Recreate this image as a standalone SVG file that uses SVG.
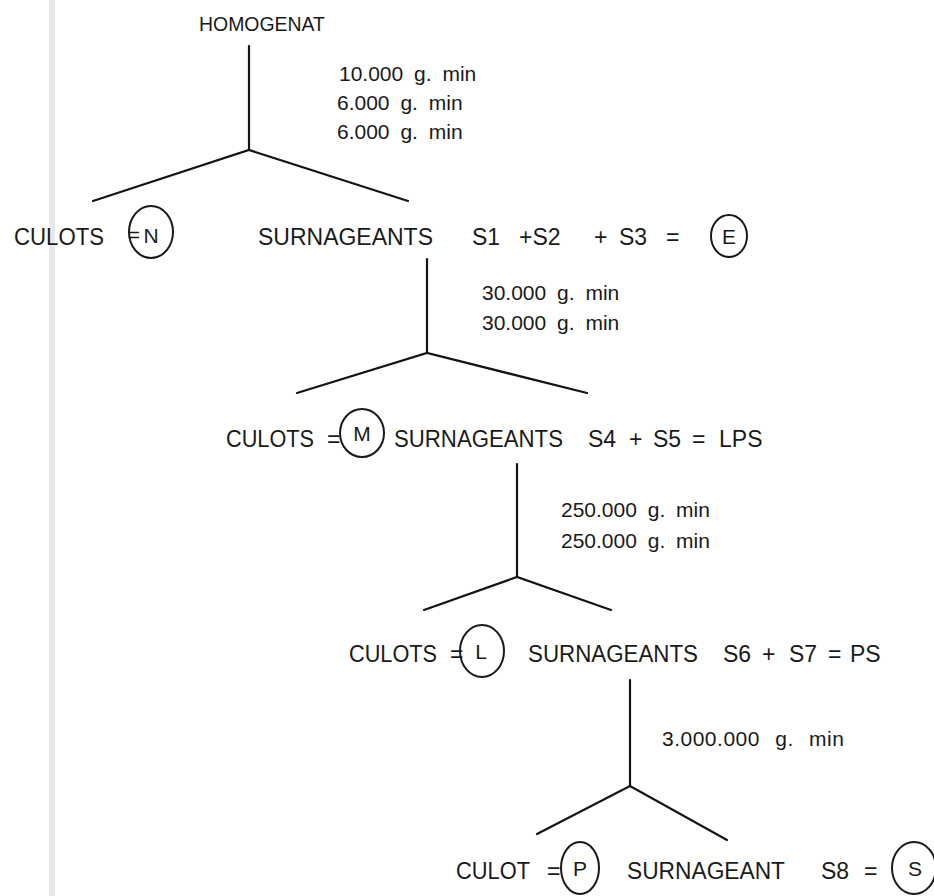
<svg xmlns="http://www.w3.org/2000/svg" width="934" height="896" viewBox="0 0 934 896">
<style>
.t{font-family:"Liberation Sans",Arial,sans-serif;font-size:23px;fill:#1a1a1a}
.s{font-family:"Liberation Sans",Arial,sans-serif;font-size:21px;fill:#1a1a1a}
.c{font-family:"Liberation Sans",Arial,sans-serif;font-size:21px;fill:#1a1a1a;text-anchor:middle}
.ring{fill:none;stroke:#1a1a1a;stroke-width:2}
.ln{fill:none;stroke:#141414;stroke-width:2.2;stroke-linecap:round}
</style>
<rect x="0" y="0" width="934" height="896" fill="#ffffff"/>
<rect x="49" y="0" width="6" height="896" fill="#e8e8e8"/>
<g id="connectors">
<path class="ln" d="M249 46V150M93 201L249 150L408 201"/>
<path class="ln" d="M427 259V353M297 393L427 353L587 393"/>
<path class="ln" d="M517 464V577M424 610L517 577L611 610"/>
<path class="ln" d="M630 680V786M537 834L630 786L727 840"/>
</g>
<g id="labels">
<text class="s" x="339" y="81" word-spacing="5">10.000 g. min</text>
<text class="s" x="337" y="110" word-spacing="5">6.000 g. min</text>
<text class="s" x="337" y="139" word-spacing="5">6.000 g. min</text>
<text class="s" x="482" y="300" word-spacing="5">30.000 g. min</text>
<text class="s" x="482" y="330" word-spacing="5">30.000 g. min</text>
<text class="s" x="561" y="517" word-spacing="5">250.000 g. min</text>
<text class="s" x="561" y="548" word-spacing="5">250.000 g. min</text>
<text class="s" x="662" y="746" word-spacing="9" letter-spacing="0.5">3.000.000 g. min</text>
</g>
<g id="homogenat">
<text class="s" x="199" y="31" font-size="19" textLength="126" lengthAdjust="spacingAndGlyphs">HOMOGENAT</text>
</g>
<g id="culots-n">
<text class="t" x="14" y="245" textLength="90" lengthAdjust="spacingAndGlyphs">CULOTS</text>
<text class="c" x="134" y="242" font-size="14">=</text>
<ellipse class="ring" cx="151" cy="232" rx="22" ry="26"/>
<text class="c" x="151" y="243">N</text>
</g>
<g id="surnageants-1">
<text class="t" x="258" y="245" textLength="175" lengthAdjust="spacingAndGlyphs">SURNAGEANTS</text>
<text class="t" y="245"><tspan x="472">S1</tspan><tspan x="519">+S2</tspan><tspan x="594">+</tspan><tspan x="619">S3</tspan><tspan x="666">=</tspan></text>
<ellipse class="ring" cx="729" cy="236" rx="18" ry="21"/>
<text class="c" x="729" y="244">E</text>
</g>
<g id="culots-m">
<text class="t" x="226" y="447" textLength="88" lengthAdjust="spacingAndGlyphs">CULOTS</text>
<text class="t" x="327" y="447">=</text>
<ellipse class="ring" cx="362" cy="433" rx="22" ry="24"/>
<text class="c" x="362" y="441">M</text>
</g>
<g id="surnageants-2">
<text class="t" x="394" y="447" textLength="169" lengthAdjust="spacingAndGlyphs">SURNAGEANTS</text>
<text class="t" y="447"><tspan x="588">S4</tspan><tspan x="629">+</tspan><tspan x="653">S5</tspan><tspan x="692">=</tspan><tspan x="719">LPS</tspan></text>
</g>
<g id="culots-l">
<text class="t" x="349" y="662" textLength="88" lengthAdjust="spacingAndGlyphs">CULOTS</text>
<text class="t" x="450" y="662">=</text>
<ellipse class="ring" cx="482" cy="651" rx="22" ry="26"/>
<text class="c" x="481" y="659">L</text>
</g>
<g id="surnageants-3">
<text class="t" x="528" y="662" textLength="170" lengthAdjust="spacingAndGlyphs">SURNAGEANTS</text>
<text class="t" y="662"><tspan x="723">S6</tspan><tspan x="762">+</tspan><tspan x="789">S7</tspan><tspan x="828">=</tspan><tspan x="850">PS</tspan></text>
</g>
<g id="culot-p">
<text class="t" x="456" y="879" textLength="74" lengthAdjust="spacingAndGlyphs">CULOT</text>
<text class="t" x="547" y="879">=</text>
<ellipse class="ring" cx="580" cy="868" rx="19" ry="26"/>
<text class="c" x="580" y="876">P</text>
</g>
<g id="surnageant-s">
<text class="t" x="627" y="879" textLength="158" lengthAdjust="spacingAndGlyphs">SURNAGEANT</text>
<text class="t" y="879"><tspan x="821">S8</tspan><tspan x="864">=</tspan></text>
<ellipse class="ring" cx="914" cy="868" rx="22" ry="26"/>
<text class="c" x="915" y="876">S</text>
</g>
</svg>
